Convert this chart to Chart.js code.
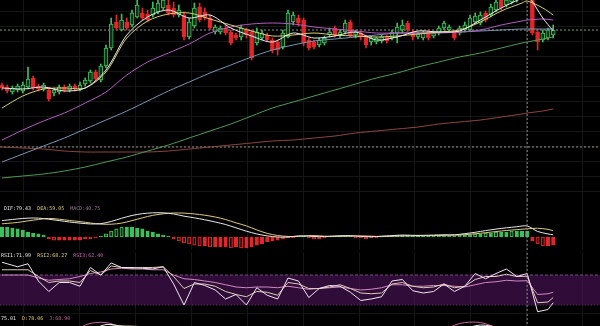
<!DOCTYPE html>
<html>
<head>
<meta charset="utf-8">
<script src="https://cdn.jsdelivr.net/npm/chart.js@4.4.1/dist/chart.umd.min.js"></script>
<style>
html,body{margin:0;padding:0;background:#000;width:600px;height:326px;overflow:hidden;}
.panel{position:absolute;left:0;width:600px;}
.lbl{position:absolute;font-family:"DejaVu Sans Mono",monospace;font-size:5px;line-height:6px;white-space:pre;}
</style>
</head>
<body>
<div class="panel" style="top:0;height:200px"><canvas id="mainChart"></canvas></div>
<div class="panel" style="top:200px;height:50px"><canvas id="macdChart"></canvas></div>
<div class="panel" style="top:252px;height:61px"><canvas id="rsiChart"></canvas></div>
<div class="panel" style="top:313px;height:13px"><canvas id="kdjChart"></canvas></div>

<div class="lbl" style="left:4px;top:205px"><span style="color:#e4e4e4">DIF:79.43</span>  <span style="color:#e2cc6a">DEA:59.05</span>  <span style="color:#9c7a9c">MACD:40.75</span></div>
<div class="lbl" style="left:1px;top:252px"><span style="color:#e8e8e8">RSI1:71.99</span>  <span style="color:#e2d08a">RSI2:68.27</span>  <span style="color:#c864b4">RSI3:62.40</span></div>
<div class="lbl" style="left:-5px;top:315px"><span style="color:#e8e8e8">K:75.01</span>  <span style="color:#e2cc6a">D:78.06</span>  <span style="color:#c864a0">J:68.90</span></div>

<script>
// ===== K線資料（每根一筆）=====
const openP  = [115,113,108,110,109,113,122,114,111,110,107,108,113,110,114,111,116,119,128,120,134,152,178,170,178,175,183,187,186,185,188,192,195,192,185,185,163,174,193,188,182,168,168,172,168,165,163,170,168,157,162,165,160,158,153,163,178,182,180,160,158,155,157,165,172,165,168,178,165,167,163,158,158,159,163,162,167,170,177,168,163,162,168,164,167,172,170,168,167,170,170,178,177,187,185,190,200,195,198,200,203,205,205,168,160,162,165];
const highP  = [117,115,114,116,118,133,124,116,117,112,112,115,115,116,116,118,122,130,130,136,155,182,185,186,182,190,200,192,190,198,205,208,202,198,195,188,182,197,197,192,185,175,174,175,170,167,175,172,170,172,170,167,162,160,170,190,188,185,182,162,160,162,164,172,174,170,180,180,170,169,165,164,163,165,165,170,177,180,179,170,168,169,170,169,174,179,175,170,174,178,185,187,188,189,196,202,203,205,210,212,215,215,208,170,170,172,175];
const lowP   = [110,107,106,108,107,111,110,109,109,99,104,106,108,108,109,109,114,117,119,118,132,150,170,169,170,173,182,180,178,183,186,190,185,183,183,160,161,172,178,180,170,166,166,165,155,160,160,162,140,155,160,158,147,145,151,162,175,174,154,150,151,153,155,163,163,162,166,163,162,160,152,155,156,157,157,160,157,167,168,160,161,160,160,162,165,170,168,160,165,168,169,176,175,178,183,188,190,193,196,198,200,202,165,150,158,160,162];
const closeP = [112,109,112,114,115,121,112,111,115,101,110,113,110,114,111,115,120,128,121,134,152,176,172,180,172,187,195,182,180,192,197,200,187,185,190,163,178,192,180,182,172,173,172,167,157,162,172,165,142,168,167,160,150,150,167,187,185,177,157,152,153,160,162,168,165,168,177,165,168,163,155,162,162,163,159,168,173,175,170,163,166,167,162,167,172,177,173,162,172,175,182,184,185,180,193,198,192,200,205,208,210,212,167,158,167,170,170];

// ===== 均線（取樣點）=====
const maIdx = [0,4,8,12,16,20,24,28,32,36,40,44,48,52,56,60,64,68,72,76,80,84,88,92,96,100,101,104,106];
const ma5   = [112,111,113,109,112,130,165,183,190,182,185,172,164,158,167,162,164,168,160,163,169,168,169,180,192,202,205,182,169];
const ma10  = [92,104,111,112,112,128,162,179,186,187,181,175,169,164,165,167,165,164,163,164,166,168,170,178,189,197,199,192,185];
const ma20  = [60,70,79,87,97,108,125,138,147,156,167,173,176,177,176,173,171,169,167,167,167,167,168,170,175,179,180,181,180];
const ma30  = [38,46,54,62,71,80,89,99,109,118,127,135,143,150,155,159,161,163,165,167,167,168,168,169,170,171,171,171,171];
const ma60  = [22,24,26,29,33,38,43,49,55,62,69,76,84,92,98,104,110,116,122,127,133,138,143,147,152,157,158,161,163];
const ma120 = [53,52,51,49,48,48,48,48,49,51,53,55,57,59,60,62,64,67,69,71,73,76,78,80,83,86,87,89,91];
const priceLines = [170, 53];
const crossIdx = 101;

// ===== MACD =====
const lineIdx = [0,1,3,5,7,9,11,13,15,17,19,21,23,25,27,29,31,33,35,37,39,41,43,45,47,49,51,53,55,57,59,61,63,65,67,69,71,73,75,77,79,81,83,85,87,89,91,93,95,97,99,101,103,105,106];
const dif = [118,122,130,136,136,128,118,108,100,94,96,112,135,155,168,174,174,166,150,138,124,108,90,66,42,22,8,0,0,8,6,2,6,9,10,4,2,6,10,14,12,12,14,16,16,24,34,46,57,66,74,79.43,40,22,16];
const dea = [95,98,105,116,126,134,128,119,111,101,93,92,100,118,138,156,167,173,172,166,157,144,126,102,80,51,26,11,4,4,10,9,3,5,6,8,6,3,6,7,8,9,10,12,13,17,23,31,39,47,53,59.05,63,55,45];
const macdHist = [72,72,65,58,50,36,29,22,14,-14,-22,-22,-22,-22,-22,-22,-14,-14,-7,7,22,43,58,72,72,72,65,58,43,36,22,14,7,-14,-29,-43,-50,-58,-65,-65,-72,-72,-72,-72,-79,-72,-79,-79,-72,-58,-50,-36,-29,-22,-14,-7,-7,7,7,-7,-14,-14,-7,7,7,7,7,7,-7,-7,-14,-7,-7,7,7,7,14,14,14,7,7,7,7,7,7,7,7,7,14,14,14,22,22,29,29,36,36,36,43,43,43,40.75,-29,-50,-65,-65,-58];

// ===== RSI =====
const rsi1 = [87,85,81,85,62,48,60,60,55,80,70,86,80,80,79,78,81,58,30,60,56,50,38,44,30,53,43,38,66,62,40,52,56,55,47,36,38,41,62,64,49,46,48,58,48,55,72,65,72,78,68,71.99,21,24,33];
const rsi2 = [77,77,77,77,68,60,62,62,60,76,70,82,80,79,80,80,81,68,52,58,58,55,48,44,41,48,47,43,60,58,52,52,54,57,52,46,45,46,58,60,55,53,54,58,53,55,64,68,68,71,68,68.27,33,34,40];
const rsi3 = [70,70,70,70,66,63,64,65,68,72,74,78,79,78,78,77,77,70,65,64,62,60,57,54,53,54,54,53,55,53,51,52,53,54,52,50,51,53,57,57,55,55,56,56,55,54,57,60,61,63,62,62.4,44,45,47];
const rsiBand = [70, 30];

// ===== KDJ =====
const kdjK = [55,60,50,52,70,87,82,80,78,60,55,40,35,30,45,40,45,50,40,55,50,60,75,86,80,76,75.01,45,35];
const kdjD = [58,58,55,52,62,82,84,82,80,70,62,50,42,36,40,42,44,47,44,50,51,55,66,80,81,78,78.06,62,50];
const kdjJ = [49,64,40,52,86,91,78,76,74,40,41,20,21,18,55,36,47,56,32,65,48,70,89,91,78,72,68.9,11,5];

// ===== 版面設定 =====
const GRID = '#161616';
const X_MIN = -2 / 5.2, X_MAX = 598 / 5.2;
const gridCols = Array.from({length: 11}, (_, k) => 4.17 + k * 10.75);
const upCol = '#3cc05a', downCol = '#e3262a';

const pts = (xs, ys) => xs.map((x, k) => ({ x, y: ys[k] }));

function lineDs(xs, ys, color, extra){
  return Object.assign({
    type:'line', data:pts(xs, ys), borderColor:color, borderWidth:1,
    pointRadius:0, tension:0.3, order:1
  }, extra || {});
}
function hLine(y, color, dash, extra){
  return Object.assign({
    type:'line', data:[{x:X_MIN, y}, {x:X_MAX, y}], borderColor:color,
    borderWidth:1, borderDash:dash, pointRadius:0, order:4
  }, extra || {});
}
function crossLine(){
  return { type:'line', data:[{x:crossIdx, y:-1e4}, {x:crossIdx, y:1e4}],
    borderColor:'#8c8c8c', borderWidth:1, borderDash:[2,2], pointRadius:0, order:0 };
}
function xScale(){
  return { type:'linear', min:X_MIN, max:X_MAX, offset:false,
    grid:{ color:GRID, drawTicks:false, offset:false }, border:{ display:false },
    ticks:{ display:false },
    afterBuildTicks: s => { s.ticks = gridCols.map(v => ({ value:v })); } };
}
function yScale(min, max, rows){
  return { type:'linear', min, max,
    grid:{ color:GRID, drawTicks:false }, border:{ display:false },
    ticks:{ display:false },
    afterBuildTicks: s => { s.ticks = rows.map(v => ({ value:v })); } };
}
function opts(yMin, yMax, rows){
  return { responsive:true, maintainAspectRatio:false, animation:false, events:[],
    layout:{ padding:0 },
    plugins:{ legend:{ display:false }, tooltip:{ enabled:false } },
    scales:{ x:xScale(), y:yScale(yMin, yMax, rows) } };
}

// ===== 主圖 =====
const isUp = closeP.map((c, i) => c >= openP[i]);
new Chart(document.getElementById('mainChart'), {
  type:'bar',
  data:{ datasets:[
    crossLine(),
    lineDs(maIdx, ma5, '#ececec'),
    lineDs(maIdx, ma10, '#d9cf72'),
    lineDs(maIdx, ma20, '#b45cc4'),
    lineDs(maIdx, ma30, '#7896b4'),
    lineDs(maIdx, ma60, '#4e9c56'),
    lineDs(maIdx, ma120, '#8e4640'),
    {
      type:'bar', data:closeP.map((c, i) => ({ x:i, y:[openP[i], c] })),
      backgroundColor:isUp.map(u => u ? '#10301a' : downCol),
      borderColor:isUp.map(u => u ? upCol : downCol),
      borderWidth:1, borderSkipped:false, barThickness:4, grouped:false, order:2
    },
    {
      type:'bar', data:closeP.map((c, i) => ({ x:i, y:[lowP[i], highP[i]] })),
      backgroundColor:isUp.map(u => u ? upCol : downCol),
      barThickness:1, grouped:false, order:3
    },
    hLine(priceLines[0], '#8c968c', [2,2]),
    hLine(priceLines[1], '#9a8c82', [2,2])
  ]},
  options:opts(0, 200, Array.from({length:13}, (_, k) => 188.3 - 15 * k))
});

// ===== MACD =====
const histStyle = macdHist.map((h, i) => {
  const col = h >= 0 ? upCol : downCol;
  const prev = i ? macdHist[i - 1] : 0;
  const growing = Math.sign(prev) === Math.sign(h) && Math.abs(h) > Math.abs(prev);
  return { fill: growing ? 'rgba(0,0,0,0.6)' : col, line: col };
});
new Chart(document.getElementById('macdChart'), {
  type:'bar',
  data:{ datasets:[
    crossLine(),
    lineDs(lineIdx, dif, '#e8e8e8'),
    lineDs(lineIdx, dea, '#dccb78'),
    {
      type:'bar', data:macdHist.map((h, i) => ({ x:i, y:h })),
      backgroundColor:histStyle.map(s => s.fill), borderColor:histStyle.map(s => s.line),
      borderWidth:1, borderSkipped:false, barThickness:3.4, grouped:false, order:2
    }
  ]},
  options:opts(-93.6, 266.4, [])
});

// ===== RSI =====
new Chart(document.getElementById('rsiChart'), {
  type:'line',
  data:{ datasets:[
    crossLine(),
    lineDs(lineIdx, rsi1, '#f0e4f0', { tension:0 }),
    lineDs(lineIdx, rsi2, '#dccdb4', { tension:0 }),
    lineDs(lineIdx, rsi3, '#d088c0', { tension:0 }),
    hLine(rsiBand[0], '#7a4a80', [3,2], { fill:'+1', backgroundColor:'rgba(78,20,92,0.62)', order:5 }),
    hLine(rsiBand[1], '#5a4060', [1,2], { order:5 })
  ]},
  options:opts(19.33, 100.67, [])
});

// ===== KDJ =====
new Chart(document.getElementById('kdjChart'), {
  type:'line',
  data:{ datasets:[
    crossLine(),
    lineDs(maIdx, kdjK, '#ececec'),
    lineDs(maIdx, kdjD, '#dccb78'),
    lineDs(maIdx, kdjJ, '#c864a0')
  ]},
  options:opts(84, 110, [110])
});
</script>
</body>
</html>
